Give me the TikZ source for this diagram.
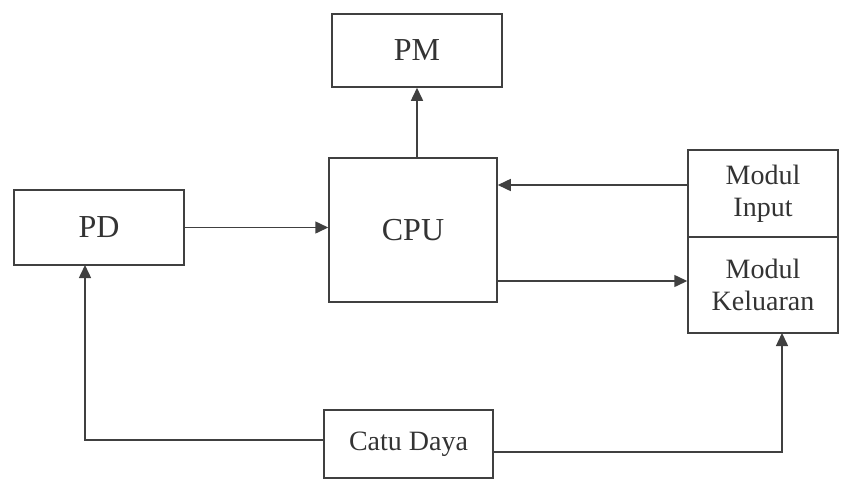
\documentclass[tikz,border=0pt]{standalone}
\usepackage{fontspec}
\setmainfont{Liberation Serif}
\usetikzlibrary{arrows.meta}
\begin{document}
\begin{tikzpicture}[x=1pt,y=-1pt,
  blk/.style={draw=black!75,line width=1.5pt,inner sep=0pt,align=center,text=black!80},
  big/.style={font=\fontsize{32}{34}\selectfont},
  small/.style={font=\fontsize{28}{32}\selectfont},
  arr/.style={draw=black!75,line width=1.5pt,-{Triangle[length=13pt,width=12pt]}}]
\useasboundingbox (0,0) rectangle (850,479);
\node[blk,big,minimum width=170pt,minimum height=73pt] (pm) at (417,50.5) {PM};
\node[blk,big,minimum width=168pt,minimum height=144pt] (cpu) at (413,230) {CPU};
\node[blk,big,minimum width=170pt,minimum height=75pt] (pd) at (99,227.5) {PD};
\node[blk,small,minimum width=150pt,minimum height=87pt] (in) at (763,193.5) {Modul\\Input};
\node[blk,small,minimum width=150pt,minimum height=96pt] (out) at (763,285) {Modul\\Keluaran};
\node[blk,small,minimum width=169pt,minimum height=68pt] (catu) at (408.5,444) {Catu Daya};
\coordinate (a1) at (688,185);
\coordinate (a2) at (497,281);
\coordinate (c1) at (324,440);
\coordinate (p1) at (85,265);
\coordinate (c2) at (493,452);
\coordinate (m1) at (782,333);
\draw[arr] (pm.south |- cpu.north) -- (pm.south);
\draw[arr] (pd.east) -- (pd.east -| cpu.west);
\draw[arr] (a1) -- (a1 -| cpu.east);
\draw[arr] (a2) -- (a2 -| out.west);
\draw[arr] (c1) -| (p1);
\draw[arr] (c2) -| (m1);
\end{tikzpicture}
\end{document}
